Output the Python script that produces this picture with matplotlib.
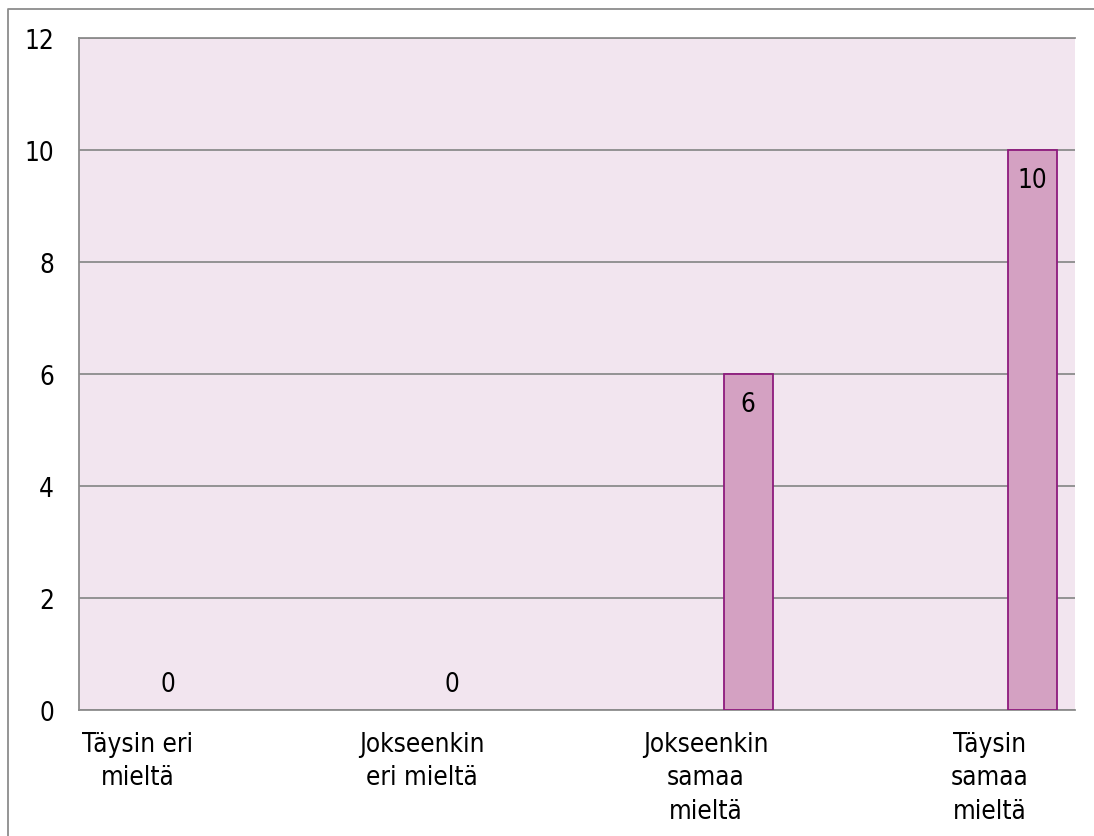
import matplotlib.pyplot as plt
from matplotlib.lines import Line2D

# Vastausjakauma
categories = ["Täysin eri\nmieltä", "Jokseenkin\neri mieltä",
              "Jokseenkin\nsamaa\nmieltä", "Täysin\nsamaa\nmieltä"]
counts = [0, 0, 6, 10]
yticks = [0, 2, 4, 6, 8, 10, 12]

W, H = 1094, 837
plt.rcParams['font.family'] = ['DejaVu Sans']
plt.rcParams['font.stretch'] = 'condensed'
fs = 18.7

fig = plt.figure(figsize=(W / 100, H / 100), dpi=100)
fig.patch.set_facecolor('white')

# kaavion ulkoreunus (vasen ja ylä)
grey = '#8c8c8c'
fig.add_artist(Line2D([8 / W, 8 / W, 1.0], [0.0, 1 - 10 / H, 1 - 10 / H],
                      transform=fig.transFigure, color=grey, lw=1.3))

ax = fig.add_axes([79 / W, (H - 711) / H, (1075 - 79) / W, (711 - 39) / H])
ax.set_facecolor('#f2e5ef')

x = list(range(len(counts)))
edges = ['#8e1a7d' if v > 0 else 'none' for v in counts]
bars = ax.bar(x, counts, width=49 / 284, color='#d4a1c2',
              edgecolor=edges, linewidth=1.3, zorder=3)

ax.set_xlim(2 - (748 - 79) / 284, 2 + (1075 - 748) / 284)
ax.set_ylim(0, 12)
ax.set_yticks(yticks)
ax.set_yticklabels([str(v) for v in yticks], fontsize=fs)
ax.set_xticks([i - 0.15 for i in x])
ax.set_xticklabels(categories, fontsize=fs, linespacing=1.38)
ax.tick_params(axis='both', length=0)
ax.tick_params(axis='y', pad=18)
ax.tick_params(axis='x', pad=15)

ax.yaxis.grid(True, color=grey, lw=1.3, zorder=1)
ax.set_axisbelow(True)
for side in ['left', 'top', 'bottom']:
    ax.spines[side].set_color(grey)
    ax.spines[side].set_linewidth(1.3)
ax.spines['right'].set_visible(False)

# arvot pylväisiin
for b, v in zip(bars, counts):
    cx = b.get_x() + b.get_width() / 2
    if v > 0:
        ax.annotate(str(v), (cx, v), xytext=(0, -30), textcoords='offset pixels',
                    ha='center', va='center', fontsize=fs, zorder=4)
    else:
        ax.annotate(str(v), (cx, 0), xytext=(-12, 26), textcoords='offset pixels',
                    ha='center', va='center', fontsize=fs, zorder=4)

plt.savefig("out.png", dpi=100)
